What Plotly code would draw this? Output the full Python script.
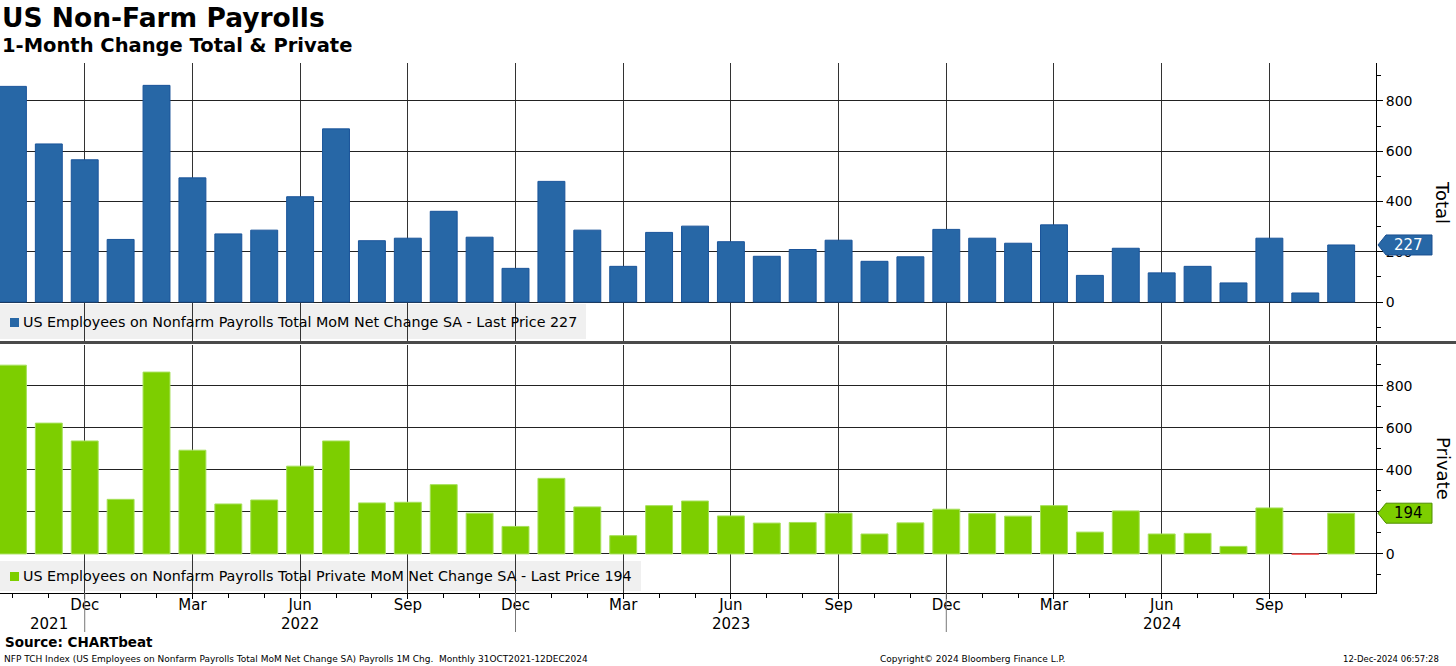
import numpy as np
import pandas as pd
import plotly.graph_objects as go
from plotly.subplots import make_subplots

# ---------------- data ----------------
months = pd.date_range("2021-10-01", "2024-11-01", freq="MS")
total = [858, 629, 566, 249, 862, 494, 271, 286, 419, 689,
         244, 254, 361, 258, 134, 480, 286, 142, 277, 302,
         240, 182, 209, 246, 162, 180, 289, 254, 234, 307,
         106, 214, 116, 142, 76, 254, 36, 227]
private = [899, 623, 538, 260, 866, 494, 238, 257, 418, 538,
           243, 246, 330, 194, 131, 360, 224, 87, 230, 252,
           181, 147, 150, 194, 95, 148, 213, 192, 180, 230,
           104, 205, 95, 98, 36, 219, -2, 194]
y_ticks = [0, 200, 400, 600, 800]
year_labels = ["2021", "2022", "2023", "2024"]
year_label_months = ["2021-11", "2022-06", "2023-06", "2024-06"]

title = "US Non-Farm Payrolls"
subtitle = "1-Month Change Total & Private"
total_name = "US Employees on Nonfarm Payrolls Total MoM Net Change SA"
private_name = "US Employees on Nonfarm Payrolls Total Private MoM Net Change SA"
source = "Source: CHARTbeat"
footer = "NFP TCH Index (US Employees on Nonfarm Payrolls Total MoM Net Change SA) Payrolls 1M Chg.  Monthly 31OCT2021-12DEC2024"
copyright_txt = "Copyright\u00a9 2024 Bloomberg Finance L.P."
stamp = "12-Dec-2024 06:57:28"

# ---------------- derived ----------------
x = np.arange(len(months))
q_idx = [i for i, m in enumerate(months) if m.month in (3, 6, 9, 12)]
q_txt = [months[i].strftime("%b") for i in q_idx]
dec_idx = [i for i, m in enumerate(months) if m.month == 12]
year_x = [list(months.strftime("%Y-%m")).index(s) for s in year_label_months]

BLUE = "#2767a6"
BLUE_EDGE = "#1a549a"
GREEN = "#7dce00"
GREEN_EDGE = "#a6e05a"
RED = "#ff5c5c"
FONT = "DejaVu Sans"

W, H = 1456, 666
ML, MR, MT, MB = 0, 80, 63, 73
PW, PH = W - ML - MR, H - MT - MB


def px(xp):
    return (xp - ML) / PW


def py(yp):
    return (H - MB - yp) / PH


fig = make_subplots(rows=2, cols=1, shared_xaxes=True, vertical_spacing=0.01)

fig.add_trace(go.Bar(x=x, y=total, marker=dict(color=BLUE, line=dict(color=BLUE_EDGE, width=1)),
                     width=0.75, name=total_name, showlegend=False), row=1, col=1)
pcol = [GREEN if v >= 0 else RED for v in private]
pedge = [GREEN_EDGE if v >= 0 else RED for v in private]
fig.add_trace(go.Bar(x=x, y=private, marker=dict(color=pcol, line=dict(color=pedge, width=1)),
                     width=0.75, name=private_name, showlegend=False), row=2, col=1)

xr = [-0.36, 37.97]
common_x = dict(range=xr, tickvals=q_idx, ticktext=q_txt, showgrid=True, gridcolor="#333",
                gridwidth=1, zeroline=False)
fig.update_layout(
    xaxis=dict(**common_x, showticklabels=False, ticks="", showline=False),
    xaxis2=dict(**common_x, showticklabels=True, ticks="outside", ticklen=5, tickcolor="#000",
                showline=True, linecolor="#000", linewidth=1, ticklabelstandoff=-7,
                tickfont=dict(family=FONT, size=15, color="#000"),
                minor=dict(dtick=1, tick0=0, ticks="outside", ticklen=4, tickcolor="#000", showgrid=False)),
)
common_y = dict(side="right", tickvals=y_ticks, showgrid=True, gridcolor="#222", gridwidth=1,
                zeroline=False, showline=True, linecolor="#000", linewidth=1,
                ticks="outside", ticklen=6, tickcolor="#000",
                tickfont=dict(family=FONT, size=14, color="#000"),
                minor=dict(dtick=100, ticks="outside", ticklen=4, tickcolor="#000", showgrid=False))
fig.update_layout(
    yaxis=dict(**common_y, domain=[py(341), 1.0], range=[-155, 951]),
    yaxis2=dict(**common_y, domain=[0.0, py(345)], range=[-186, 995]),
)

shapes = []
annos = []


def txt(x, y, text, size, xanchor="left", color="#000", **kw):
    d = dict(xref="paper", yref="paper", x=x, y=y, xanchor=xanchor, yanchor="middle",
             showarrow=False, text=text, font=dict(family=FONT, size=size, color=color))
    d.update(kw)
    return d


# legend boxes (below grid)
shapes.append(dict(type="rect", xref="paper", yref="paper", x0=0, x1=px(586), y0=py(339), y1=py(304),
                   fillcolor="#f0f0f0", line=dict(width=0), layer="below"))
shapes.append(dict(type="rect", xref="paper", yref="paper", x0=0, x1=px(641), y0=py(591), y1=py(561),
                   fillcolor="#f0f0f0", line=dict(width=0), layer="below"))
# legend squares
shapes.append(dict(type="rect", xref="paper", yref="paper", x0=px(10), x1=px(19), y0=py(327), y1=py(318),
                   fillcolor=BLUE, line=dict(width=0)))
shapes.append(dict(type="rect", xref="paper", yref="paper", x0=px(10), x1=px(19), y0=py(581), y1=py(572),
                   fillcolor=GREEN, line=dict(width=0)))
annos.append(txt(px(21), py(322), f"{total_name} - Last Price {total[-1]}", 14.3))
annos.append(txt(px(21), py(576), f"{private_name} - Last Price {private[-1]}", 14.3))

# panel separator
shapes.append(dict(type="line", xref="paper", yref="paper", x0=0, x1=W / PW, y0=py(342.5), y1=py(342.5),
                   line=dict(color="#4a4a4a", width=3)))

# last price flags
flag_path = "M 2,0 L 10,10 L 56,10 L 56,-10 L 10,-10 Z"
shapes.append(dict(type="path", xref="paper", yref="y", xsizemode="pixel", ysizemode="pixel",
                   xanchor=1.0, yanchor=total[-1], path=flag_path, fillcolor=BLUE,
                   line=dict(color="#1a4f8f", width=1), layer="above"))
shapes.append(dict(type="path", xref="paper", yref="y2", xsizemode="pixel", ysizemode="pixel",
                   xanchor=1.0, yanchor=private[-1], path=flag_path, fillcolor=GREEN,
                   line=dict(color="#4f8f00", width=1), layer="above"))
annos.append(dict(xref="paper", yref="y", x=1.0, y=total[-1], xshift=32, xanchor="center",
                  yanchor="middle", showarrow=False,
                  text=str(total[-1]), font=dict(family=FONT, size=15, color="#fff")))
annos.append(dict(xref="paper", yref="y2", x=1.0, y=private[-1], xshift=32, xanchor="center",
                  yanchor="middle", showarrow=False,
                  text=str(private[-1]), font=dict(family=FONT, size=15, color="#000")))

# axis titles
annos.append(txt(px(1443), py(202), "Total", 18, xanchor="center", textangle=90))
annos.append(txt(px(1443), py(468), "Private", 18, xanchor="center", textangle=90))

# year separators and labels
for i in dec_idx:
    shapes.append(dict(type="line", xref="x2", yref="paper", x0=i, x1=i, y0=0, y1=py(632),
                       line=dict(color="#777", width=1)))
for lab, i in zip(year_labels, year_x):
    annos.append(dict(xref="x2", yref="paper", x=i, y=py(624), xanchor="center", yanchor="middle",
                      showarrow=False, text=lab, font=dict(family=FONT, size=15, color="#000")))

# titles & footer
annos.append(txt(px(0), py(18), f"<b>{title}</b>", 26.5))
annos.append(txt(px(0), py(46), f"<b>{subtitle}</b>", 19.5))
annos.append(txt(px(3), py(642), f"<b>{source}</b>", 13.5))
annos.append(txt(px(2), py(659), footer, 9))
annos.append(txt(px(878), py(659), copyright_txt, 9))
annos.append(txt(px(1441), py(659), stamp, 8.5, xanchor="right"))

fig.update_layout(
    width=W, height=H, margin=dict(l=ML, r=MR, t=MT, b=MB),
    paper_bgcolor="#ffffff", plot_bgcolor="rgba(0,0,0,0)",
    bargap=0.25, showlegend=False, shapes=shapes, annotations=annos,
    font=dict(family=FONT, color="#000"),
)

fig.write_html("out.html", config={"displayModeBar": False},
               post_script="document.body.style.margin='0';document.body.style.overflow='hidden';")
